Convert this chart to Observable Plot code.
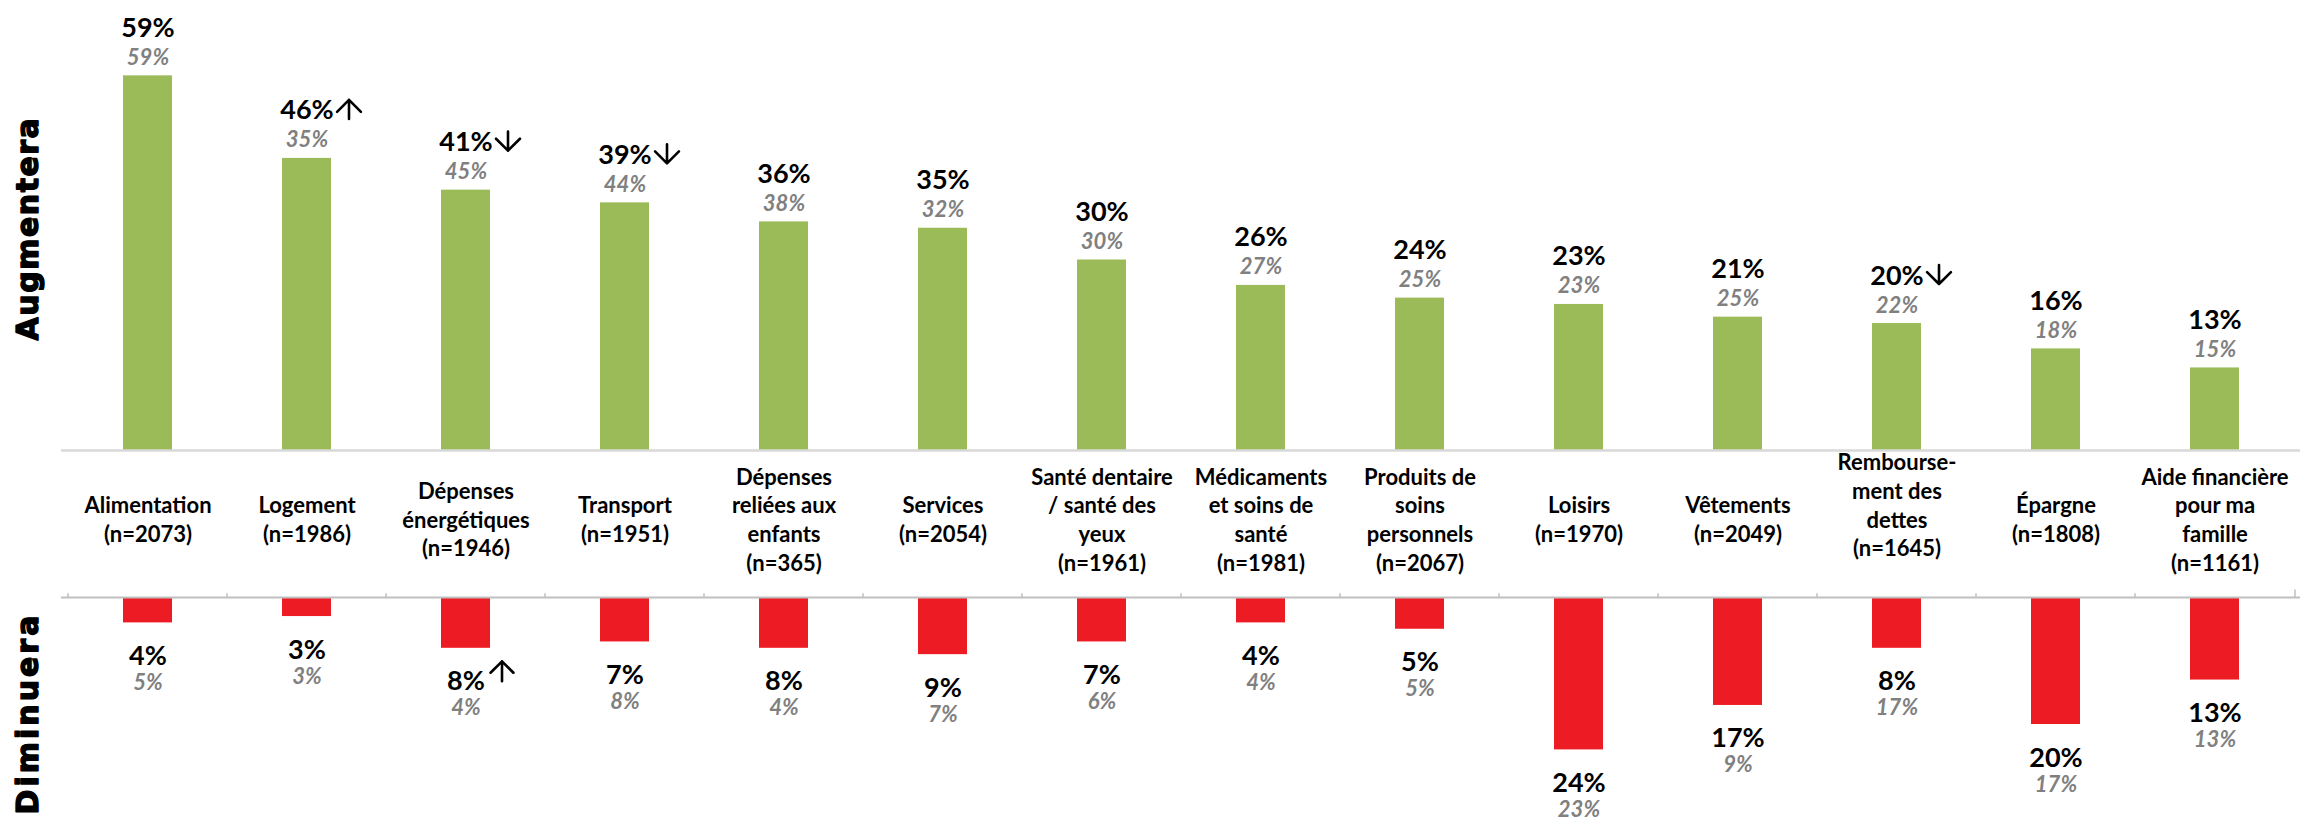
<!DOCTYPE html>
<html>
<head>
<meta charset="utf-8">
<script src="https://cdn.jsdelivr.net/npm/d3@7"></script>
<script src="https://cdn.jsdelivr.net/npm/@observablehq/plot@0.6"></script>
<style>
  html, body { margin: 0; padding: 0; background: #fff; }
  #chart svg { display: block; }
</style>
</head>
<body>
<div id="chart"></div>
<script>
// ---------- data ----------
const categories = [
  "Alimentation", "Logement", "Dépenses énergétiques", "Transport",
  "Dépenses reliées aux enfants", "Services", "Santé dentaire / santé des yeux",
  "Médicaments et soins de santé", "Produits de soins personnels", "Loisirs",
  "Vêtements", "Remboursement des dettes", "Épargne", "Aide financière pour ma famille"
];
const categoryLines = [
  ["Alimentation"], ["Logement"], ["Dépenses", "énergétiques"], ["Transport"],
  ["Dépenses", "reliées aux", "enfants"], ["Services"], ["Santé dentaire", "/ santé des", "yeux"],
  ["Médicaments", "et soins de", "santé"], ["Produits de", "soins", "personnels"], ["Loisirs"],
  ["Vêtements"], ["Rembourse-", "ment des", "dettes"], ["Épargne"], ["Aide financière", "pour ma", "famille"]
];
const sampleSizes = [2073, 1986, 1946, 1951, 365, 2054, 1961, 1981, 2067, 1970, 2049, 1645, 1808, 1161];
const trailingBlank = [false, false, false, false, false, false, false, false, false, false, false, true, false, false];

const increase     = [59, 46, 41, 39, 36, 35, 30, 26, 24, 23, 21, 20, 16, 13];
const increasePrev = [59, 35, 45, 44, 38, 32, 30, 27, 25, 23, 25, 22, 18, 15];
const decrease     = [4, 3, 8, 7, 8, 9, 7, 4, 5, 24, 17, 8, 20, 13];
const decreasePrev = [5, 3, 4, 8, 4, 7, 6, 4, 5, 23, 9, 17, 17, 13];
const increaseArrow = ["", "↑", "↓", "↓", "", "", "", "", "", "", "", "↓", "", ""];
const decreaseArrow = ["", "", "↑", "", "", "", "", "", "", "", "", "", "", ""];

const rows = categories.map((cat, i) => ({
  cat,
  label: [...categoryLines[i], `(n=${sampleSizes[i]})`].join("\n") + (trailingBlank[i] ? "\n" : ""),
  inc: increase[i], incPrev: increasePrev[i], incArrow: increaseArrow[i],
  dec: decrease[i], decPrev: decreasePrev[i], decArrow: decreaseArrow[i]
}));

// ---------- styling ----------
const W = 2305;
const GREEN = "#9bbb59", RED = "#ed1c24", GREY = "#808080";
const LABEL_FONT = "Lato, 'Open Sans', sans-serif";
const TITLE_FONT = "'DejaVu Sans', Verdana, sans-serif";
const PX_PER_PT = 6.35;
const arrowAngle = s => (s === "↑" ? 0 : 180);

const topPlot = Plot.plot({
  width: W, height: 589,
  marginTop: 0, marginBottom: 139, marginLeft: 61, marginRight: 5,
  x: {domain: categories, padding: 0, axis: null},
  y: {domain: [0, 450 / PX_PER_PT], axis: null},
  style: {background: "#fff", overflow: "visible"},
  marks: [
    Plot.barY(rows, {x: "cat", y: "inc", fill: GREEN, insetLeft: 55, insetRight: 55}),
    Plot.ruleY([0], {stroke: "#d9d9d9", strokeWidth: 2.5}),
    Plot.text(rows, {x: "cat", y: "inc", text: d => d.inc + "%", dy: -39, lineAnchor: "bottom",
      fontSize: 27, fontWeight: 700, fontFamily: LABEL_FONT, fill: "#000"}),
    Plot.text(rows, {x: "cat", y: "inc", text: d => d.incPrev + "%", dy: -11, lineAnchor: "bottom",
      fontSize: 22, fontWeight: 700, fontStyle: "italic", fontFamily: LABEL_FONT, fill: GREY}),
    Plot.vector(rows.filter(d => d.incArrow), {x: "cat", y: "inc", dx: 42, dy: -49,
      rotate: d => arrowAngle(d.incArrow), length: 19, r: 11, anchor: "middle",
      stroke: "#000", strokeWidth: 2.6}),
    Plot.text(rows, {x: "cat", frameAnchor: "bottom", text: "label", dy: 68, lineAnchor: "middle",
      lineHeight: 1.3, fontSize: 22, fontWeight: 700, fontFamily: LABEL_FONT, fill: "#000"}),
    Plot.text(["Augmentera"], {frameAnchor: "left", dx: -24, dy: 3, rotate: -90, textAnchor: "middle",
      lineAnchor: "bottom", fontSize: 30, fontWeight: 700, fontFamily: TITLE_FONT, fill: "#000",
      stroke: "#000", strokeWidth: 1.4})
  ]
});

const bottomPlot = Plot.plot({
  width: W, height: 240,
  marginTop: 8, marginBottom: 0, marginLeft: 61, marginRight: 5,
  x: {domain: categories, padding: 0, axis: null},
  y: {domain: [0, 232 / PX_PER_PT], reverse: true, axis: null},
  style: {background: "#fff", overflow: "visible"},
  marks: [
    Plot.barY(rows, {x: "cat", y: "dec", fill: RED, insetLeft: 55, insetRight: 55}),
    Plot.ruleY([0], {stroke: "#bfbfbf", strokeWidth: 2}),
    Plot.ruleX(rows, {x: "cat", dx: -80, y1: d => 0, y2: d => -0.6, stroke: "#bfbfbf", strokeWidth: 1.5}),
    Plot.ruleX(rows.slice(-1), {x: "cat", dx: 80, y1: d => 0, y2: d => -1.2, stroke: "#bfbfbf", strokeWidth: 1.5}),
    Plot.text(rows, {x: "cat", y: "dec", text: d => d.dec + "%", dy: 42, lineAnchor: "bottom",
      fontSize: 27, fontWeight: 700, fontFamily: LABEL_FONT, fill: "#000"}),
    Plot.text(rows, {x: "cat", y: "dec", text: d => d.decPrev + "%", dy: 67, lineAnchor: "bottom",
      fontSize: 22, fontWeight: 700, fontStyle: "italic", fontFamily: LABEL_FONT, fill: GREY}),
    Plot.vector(rows.filter(d => d.decArrow), {x: "cat", y: "dec", dx: 36, dy: 23,
      rotate: d => arrowAngle(d.decArrow), length: 20, r: 10, anchor: "middle",
      stroke: "#000", strokeWidth: 2.6}),
    Plot.text(["Diminuera"], {frameAnchor: "left", dx: -24, rotate: -90, textAnchor: "middle",
      lineAnchor: "bottom", fontSize: 30, fontWeight: 700, fontFamily: TITLE_FONT, fill: "#000",
      stroke: "#000", strokeWidth: 1.4})
  ]
});

// letter spacing for the two side titles (not a Plot option)
d3.select(topPlot).selectAll("text")
  .filter(function () { return this.textContent === "Augmentera"; })
  .style("letter-spacing", "1.5px");
d3.select(bottomPlot).selectAll("text")
  .filter(function () { return this.textContent === "Diminuera"; })
  .style("letter-spacing", "3px");

const chart = document.getElementById("chart");
chart.append(topPlot, bottomPlot);
</script>
</body>
</html>
